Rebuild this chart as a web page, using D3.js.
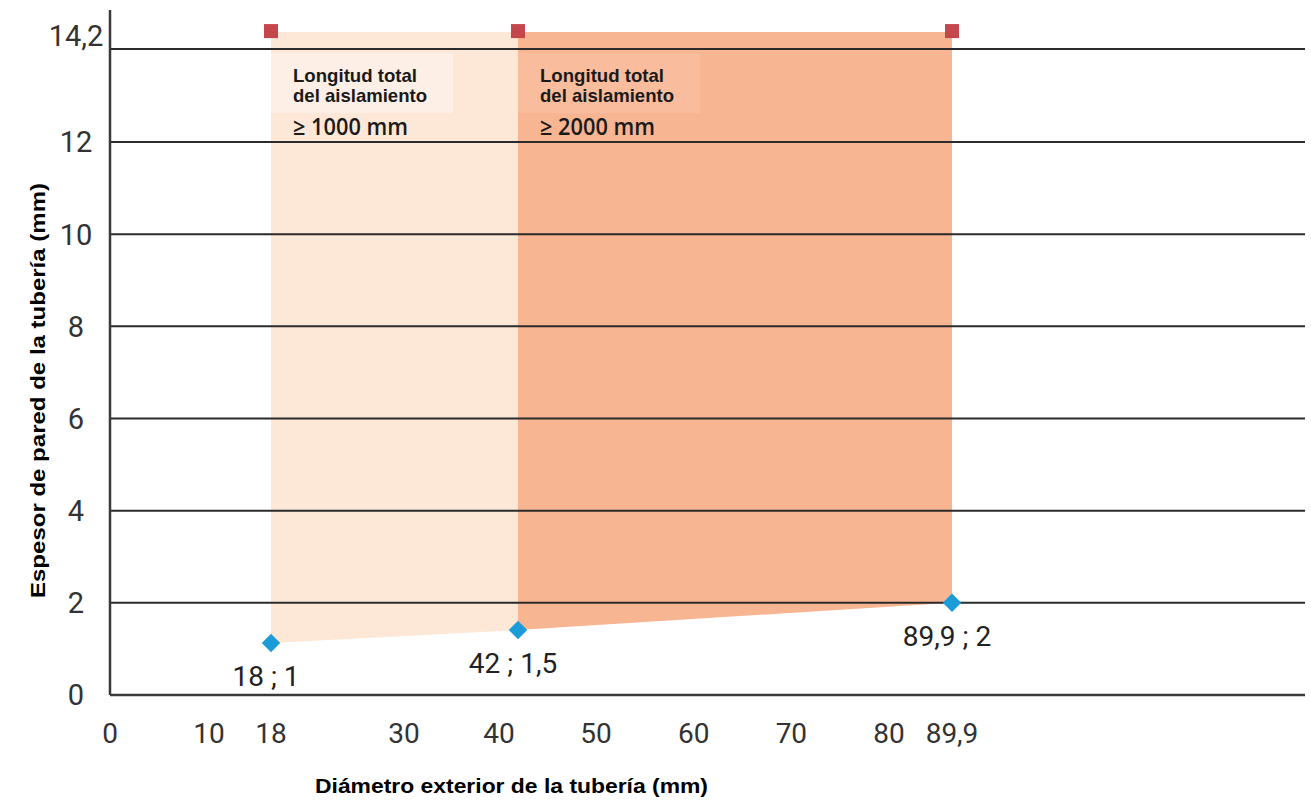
<!DOCTYPE html>
<html>
<head>
<meta charset="utf-8">
<script src="https://cdn.jsdelivr.net/npm/d3@7/dist/d3.min.js"></script>
<style>
  body { margin: 0; background: #fff; }
  svg { display: block; }
</style>
</head>
<body>
<div id="chart"></div>
<script>
// Espesor de pared vs diámetro exterior de la tubería
const xTicks = [0, 10, 18, 30, 40, 50, 60, 70, 80, 89.9];
const xTickLabels = ['0', '10', '18', '30', '40', '50', '60', '70', '80', '89,9'];
const yTicks = [0, 2, 4, 6, 8, 10, 12, 14.2];
const yTickLabels = ['0', '2', '4', '6', '8', '10', '12', '14,2'];

// points of the lower limit (as drawn) and the upper limit
const diameters = [18, 42, 89.9];
const minWall = [1.13, 1.41, 2.0];
const pointLabels = ['18 ; 1', '42 ; 1,5', '89,9 ; 2'];
const maxWall = [14.6, 14.6, 14.6];

// zones between consecutive diameters
const zoneTitle = ['Longitud total', 'del aislamiento'];
const zoneLimits = ['≥ 1000 mm', '≥ 2000 mm'];

// the original axis is not evenly spaced, so the scales are piecewise
const xKnots = [0, 10, 18, 30, 42, 80, 89.9];
const xKnotPx = [110, 209, 271, 404, 518, 889, 952];
const yKnots = [0, 12, 14.2];
const yKnotPx = [695, 142, 49];

const width = 1311, height = 800;
const plotLeft = 110, plotRight = 1305;

const x = d3.scaleLinear().domain(xKnots).range(xKnotPx);
const y = d3.scaleLinear().domain(yKnots).range(yKnotPx);

const svg = d3.select('#chart').append('svg')
    .attr('width', width)
    .attr('height', height)
    .style('background', '#ffffff');

const zoneFill = ['#fde7d6', '#f7b592'];
const boxFill = ['#fdefe5', '#f9bc9c'];

// zones
for (let i = 0; i < diameters.length - 1; i++) {
    const seg = [0, 1].map(k => ({ d: diameters[i + k], lo: minWall[i + k], hi: maxWall[i + k] }));
    const area = d3.area()
        .x(p => x(p.d))
        .y0(p => y(p.lo))
        .y1(p => y(p.hi));
    svg.append('path')
        .attr('d', area(seg))
        .attr('fill', zoneFill[i]);

    const x0 = x(diameters[i]);
    svg.append('rect')
        .attr('x', x0)
        .attr('y', 53)
        .attr('width', 182)
        .attr('height', 60)
        .attr('fill', boxFill[i]);

    const g = svg.append('g').attr('fill', '#1a1a1a');
    g.selectAll('text.title')
        .data(zoneTitle)
        .join('text')
        .attr('class', 'title')
        .attr('x', x0 + 22)
        .attr('y', (d, j) => 82 + j * 20)
        .attr('textLength', (d, j) => j === 0 ? 124 : 134)
        .attr('lengthAdjust', 'spacingAndGlyphs')
        .style('font-family', '"Liberation Sans", Arial, sans-serif')
        .style('font-weight', '700')
        .style('font-size', '18.5px')
        .text(d => d);
    g.append('text')
        .attr('x', x0 + 22)
        .attr('y', 135)
        .attr('textLength', 115)
        .attr('lengthAdjust', 'spacingAndGlyphs')
        .style('font-family', '"Open Sans", "Noto Sans", sans-serif')
        .style('font-weight', '600')
        .style('font-size', '23px')
        .text(zoneLimits[i]);
}

// grid lines
svg.append('g')
    .selectAll('line')
    .data(yTicks.slice(1))
    .join('line')
    .attr('x1', plotLeft)
    .attr('x2', plotRight)
    .attr('y1', d => y(d))
    .attr('y2', d => y(d))
    .attr('stroke', '#2b2b2b')
    .attr('stroke-width', 2);

// axes lines
svg.append('line')
    .attr('x1', plotLeft).attr('x2', plotLeft)
    .attr('y1', 10).attr('y2', y(0))
    .attr('stroke', '#3a3a3a').attr('stroke-width', 2.5);
svg.append('line')
    .attr('x1', plotLeft).attr('x2', plotRight)
    .attr('y1', y(0)).attr('y2', y(0))
    .attr('stroke', '#3a3a3a').attr('stroke-width', 2.5);

// y tick labels
svg.append('g')
    .selectAll('text')
    .data(yTicks)
    .join('text')
    .attr('x', 76)
    .attr('y', d => y(d))
    .attr('dy', (d, i) => i === yTicks.length - 1 ? '-0.1em' : '0.36em')
    .attr('text-anchor', 'middle')
    .style('font-family', 'Roboto, "Open Sans", sans-serif')
    .style('font-size', '29px')
    .style('fill', '#333')
    .text((d, i) => yTickLabels[i]);

// x tick labels
svg.append('g')
    .selectAll('text')
    .data(xTicks)
    .join('text')
    .attr('x', d => x(d))
    .attr('y', 743)
    .attr('text-anchor', 'middle')
    .style('font-family', 'Roboto, "Open Sans", sans-serif')
    .style('font-size', '28px')
    .style('fill', '#333')
    .text((d, i) => xTickLabels[i]);

// upper markers (squares)
svg.append('g')
    .selectAll('rect')
    .data(diameters)
    .join('rect')
    .attr('x', d => x(d) - 7)
    .attr('y', (d, i) => y(maxWall[i]) - 8)
    .attr('width', 14)
    .attr('height', 14)
    .attr('fill', '#c4474b');

// lower markers (diamonds)
svg.append('g')
    .selectAll('path')
    .data(diameters)
    .join('path')
    .attr('d', d3.symbol(d3.symbolSquare, 170))
    .attr('transform', (d, i) => `translate(${x(d)},${y(minWall[i])}) rotate(45)`)
    .attr('fill', '#1b9bd8');

// point labels
svg.append('g')
    .selectAll('text')
    .data(diameters)
    .join('text')
    .attr('x', d => x(d) - 5)
    .attr('y', (d, i) => y(minWall[i]) + 43)
    .attr('text-anchor', 'middle')
    .style('font-family', 'Roboto, "Open Sans", sans-serif')
    .style('font-size', '28px')
    .style('fill', '#222')
    .text((d, i) => pointLabels[i]);

// axis titles
svg.append('text')
    .attr('x', 315)
    .attr('y', 793)
    .attr('textLength', 393)
    .attr('lengthAdjust', 'spacingAndGlyphs')
    .style('font-family', '"Liberation Sans", Arial, sans-serif')
    .style('font-weight', '700')
    .style('font-size', '20px')
    .style('fill', '#000')
    .text('Diámetro exterior de la tubería (mm)');

svg.append('text')
    .attr('transform', 'translate(31,598) rotate(-90)')
    .attr('x', 0)
    .attr('y', 0)
    .attr('dy', '0.72em')
    .attr('textLength', 415)
    .attr('lengthAdjust', 'spacingAndGlyphs')
    .style('font-family', '"Liberation Sans", Arial, sans-serif')
    .style('font-weight', '700')
    .style('font-size', '19.5px')
    .style('fill', '#000')
    .text('Espesor de pared de la tubería (mm)');
</script>
</body>
</html>
